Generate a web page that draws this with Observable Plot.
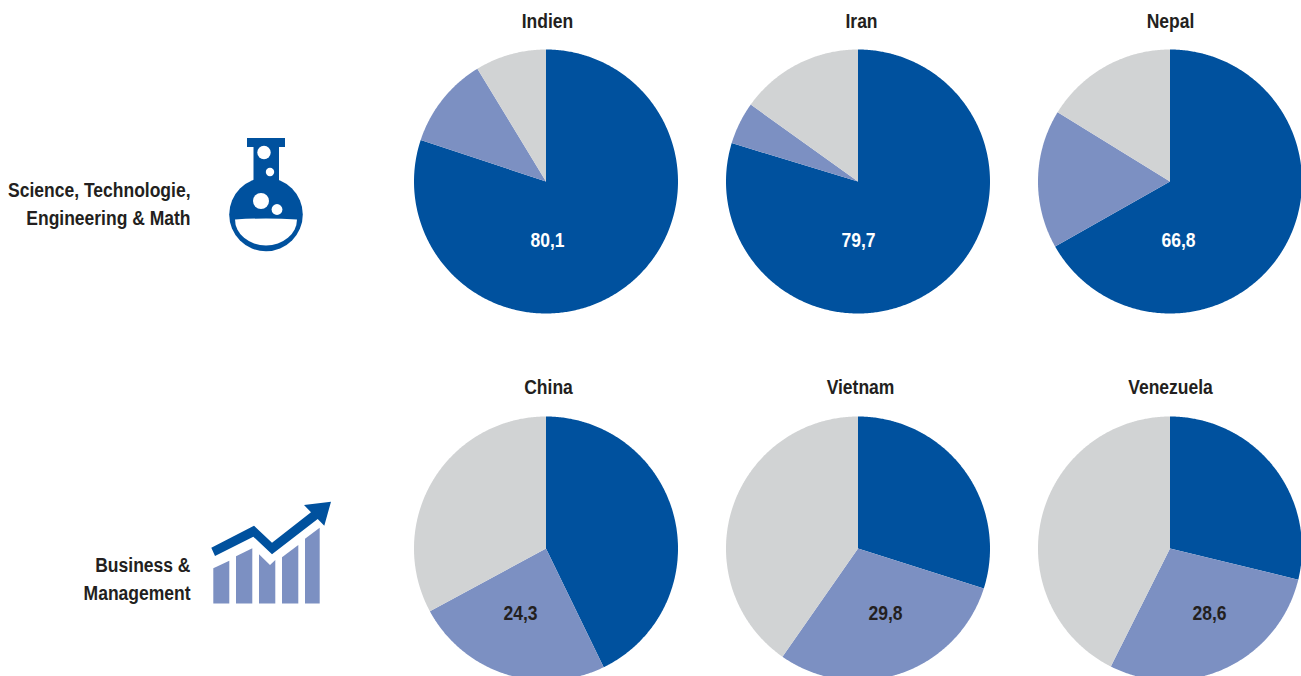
<!DOCTYPE html>
<html lang="de">
<head>
<meta charset="utf-8">
<title>Studienfächer nach Herkunftsland</title>
<script src="https://cdn.jsdelivr.net/npm/d3@7"></script>
<script src="https://cdn.jsdelivr.net/npm/@observablehq/plot@0.6"></script>
<style>
  html, body { margin: 0; padding: 0; background: #fff; overflow: hidden; }
  svg { display: block; }
</style>
</head>
<body>
<script>
// Shares of students per field of study, in percent; each pie runs clockwise from 12 o'clock.
const countries = ["Indien", "Iran", "Nepal", "China", "Vietnam", "Venezuela"];
const mainShare = [80.1, 79.7, 66.8, 42.8, 29.9, 28.8];
const secondShare = [11.2, 5.2, 17.0, 24.3, 29.8, 28.6];
const otherShare = [8.7, 15.1, 16.2, 32.9, 40.3, 42.6];
const statedValues = ["80,1", "79,7", "66,8", "24,3", "29,8", "28,6"];
const segments = ["main", "second", "other"];
const segmentColors = ["#00519e", "#7c90c2", "#d1d3d4"];
const rowLabels = ["Science, Technologie,\nEngineering & Math", "Business &\nManagement"];

// Grid of the pies, in page pixels.
const W = 1301, H = 676, R = 132;
const columnX = [545.5, 857.5, 1169.5, 545.5, 857.5, 1169.5];
const rowY = [181, 181, 181, 548, 548, 548];
const titleX = [547, 861, 1170, 548, 860, 1170];
const titleY = [21, 21, 21, 387, 387, 387];
const valueX = [547, 858, 1178, 520, 885, 1209];
const valueY = [240, 240, 240, 613, 613, 613];
const valueColors = ["#fff", "#fff", "#fff", "#231f20", "#231f20", "#231f20"];
const rowLabelX = [190, 190];
const rowLabelY = [202, 577];

const font = "'Liberation Sans', Arial, sans-serif";
const ink = "#231f20";
const condensed = 0.875; // horizontal squeeze of the bold labels

// Every slice becomes a closed outline: the centre plus points along its arc.
const pie = d3.pie().sort(null).value(d => d);
const sliceOutlines = countries.flatMap((country, i) => {
  const arcs = pie([mainShare[i], secondShare[i], otherShare[i]]);
  return arcs.flatMap((arc, s) => {
    const steps = Math.max(2, Math.ceil((arc.endAngle - arc.startAngle) / 0.01));
    const along = d3.range(steps + 1).map(k => {
      const a = arc.startAngle + (arc.endAngle - arc.startAngle) * k / steps;
      return {px: columnX[i] + R * Math.sin(a), py: rowY[i] - R * Math.cos(a)};
    });
    return [{px: columnX[i], py: rowY[i]}, ...along]
      .map(p => ({...p, key: `${country}-${s}`, segment: segments[s]}));
  });
});

const table = countries.map((name, i) => ({
  name, value: statedValues[i], tx: titleX[i], ty: titleY[i],
  vx: valueX[i], vy: valueY[i], color: valueColors[i]
}));
const rowTable = rowLabels.map((text, i) => ({text, x: rowLabelX[i], y: rowLabelY[i]}));

// Flask pictogram for the science row.
function flask(index, {x, y}) {
  const g = d3.create("svg:g").attr("transform", `translate(${x(0)},${y(0)})`);
  const blue = segmentColors[0];
  g.append("rect").attr("x", 247).attr("y", 138).attr("width", 38).attr("height", 9).attr("fill", blue);
  g.append("rect").attr("x", 253.5).attr("y", 146).attr("width", 25.5).attr("height", 50).attr("fill", blue);
  g.append("circle").attr("cx", 266).attr("cy", 214.5).attr("r", 36.8).attr("fill", blue);
  g.append("path").attr("d", "M235 219.5 Q266 217.5 297 219.5 A31 26 0 0 1 235 219.5 Z").attr("fill", "#fff");
  for (const [cx, cy, r] of [[264, 152.5, 6.7], [270, 172, 4.2], [261, 201, 8], [277, 209.5, 5.4]]) {
    g.append("circle").attr("cx", cx).attr("cy", cy).attr("r", r).attr("fill", "#fff");
  }
  return g.node();
}

// Rising bars and arrow pictogram for the business row.
function growth(index, {x, y}) {
  const g = d3.create("svg:g").attr("transform", `translate(${x(0)},${y(0)})`);
  const bars = [
    "213.3,568.3 229.3,560.7 229.3,603.5 213.3,603.5",
    "236,556.3 252.3,548.3 252.3,603.5 236,603.5",
    "259,554.3 270,565 275.3,560 275.3,603.5 259,603.5",
    "282,557.3 298.3,545 298.3,603.5 282,603.5",
    "305,538.7 319.7,527.7 319.7,603.5 305,603.5"
  ];
  for (const points of bars) g.append("polygon").attr("points", points).attr("fill", segmentColors[1]);
  g.append("polygon")
    .attr("points", "211.3,547.7 254,525.7 272,542.7 311,512.3 304,505 331,501.7 324.3,525.7 317.7,519 272,554.3 253.3,536.7 215,556")
    .attr("fill", segmentColors[0]);
  return g.node();
}

const chart = Plot.plot({
  width: W,
  height: H,
  margin: 0,
  style: {background: "#fff"},
  x: {domain: [0, W], range: [0, W], axis: null},
  y: {domain: [0, H], range: [0, H], axis: null},
  color: {domain: segments, range: segmentColors},
  marks: [
    Plot.line(sliceOutlines, {
      x: "px", y: "py", z: "key", fill: "segment", stroke: null,
      curve: "linear-closed"
    }),
    Plot.text(table, {
      x: "tx", y: "ty", text: "name", fill: ink,
      fontFamily: font, fontWeight: "bold", fontSize: 20
    }),
    Plot.text(table, {
      x: "vx", y: "vy", text: "value", fill: "color",
      fontFamily: font, fontWeight: "bold", fontSize: 20
    }),
    Plot.text(rowTable, {
      x: "x", y: "y", text: "text", fill: ink, textAnchor: "end", lineHeight: 1.4,
      fontFamily: font, fontWeight: "bold", fontSize: 20
    }),
    flask,
    growth
  ]
});

// Condense each label about its own anchor point.
d3.select(chart).selectAll("text").attr("transform", function () {
  return `${this.getAttribute("transform") || ""} scale(${condensed},1)`;
});
document.body.append(chart);
</script>
</body>
</html>
